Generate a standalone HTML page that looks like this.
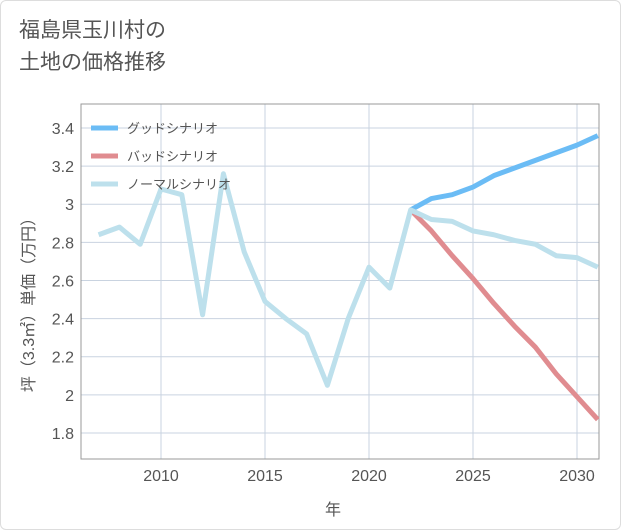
<!DOCTYPE html>
<html><head><meta charset="utf-8"><style>
body{margin:0;background:#fff;font-family:"Liberation Sans","Noto Sans CJK JP",sans-serif}
#wrap{position:relative;width:619px;height:528px;border:1px solid #ddd;border-radius:6px;overflow:hidden}
#title{position:absolute;left:18px;top:14px;font-size:21px;line-height:32px;color:#555}
</style></head><body>
<div id="wrap">
<div id="title">福島県玉川村の<br>土地の価格推移</div>
<svg id="chart" width="621" height="530" style="position:absolute;left:0;top:0"></svg>
</div>
<script>
const years=[2007,2008,2009,2010,2011,2012,2013,2014,2015,2016,2017,2018,2019,2020,2021,2022,2023,2024,2025,2026,2027,2028,2029,2030,2031];
const normal=[2.84,2.88,2.79,3.08,3.05,2.42,3.16,2.75,2.49,2.40,2.32,2.05,2.40,2.67,2.56,2.97,2.92,2.91,2.86,2.84,2.81,2.79,2.73,2.72,2.67];
const goodYears=[2022,2023,2024,2025,2026,2027,2028,2029,2030,2031];
const good=[2.97,3.03,3.05,3.09,3.15,3.19,3.23,3.27,3.31,3.36];
const bad=[2.97,2.86,2.73,2.61,2.48,2.36,2.25,2.11,1.99,1.87];
const yTicks=[1.8,2,2.2,2.4,2.6,2.8,3,3.2,3.4];
const yTickLabels=["1.8","2","2.2","2.4","2.6","2.8","3","3.2","3.4"];
const xTicks=[2010,2015,2020,2025,2030];
const L=80,R=598,T=103,B=458;
const x=v=>160+(v-2010)*20.8;
const y=v=>127-(v-3.4)*190.6;
const svg=document.getElementById('chart');
const NS='http://www.w3.org/2000/svg';
function mk(tag,attrs,parent){const e=document.createElementNS(NS,tag);for(const k in attrs)e.setAttribute(k,attrs[k]);(parent||svg).appendChild(e);return e;}
yTicks.forEach((t,i)=>{
  const g=mk('line',{x1:L,x2:R,y1:y(t),y2:y(t),stroke:'#c9d3e0','stroke-width':1});
  
  
  const tx=mk('text',{x:73,y:y(t)+6,'text-anchor':'end','font-size':16,fill:'#555'});
  tx.textContent=yTickLabels[i];
  
  
});
xTicks.forEach(t=>{
  const g=mk('line',{x1:x(t),x2:x(t),y1:T,y2:B,stroke:'#c9d3e0','stroke-width':1});
  
  
  const tx=mk('text',{x:x(t),y:480,'text-anchor':'middle','font-size':16,fill:'#555'});
  tx.textContent=String(t);
  
  
});
const fr=mk('rect',{x:L,y:T,width:R-L,height:B-T,fill:'none',stroke:'#999','stroke-width':1});


function line(xs,vs,color,name){
  const p=mk('polyline',{points:xs.map((a,i)=>x(a)+','+y(vs[i])).join(' '),fill:'none',stroke:color,'stroke-width':5,'stroke-linejoin':'round'});
  
  
}
const clip=mk('clipPath',{id:'c'});mk('rect',{x:L,y:T,width:R-L,height:B-T},clip);
line(goodYears,good,'#6bbcf5','good-scenario-line');
line(goodYears,bad,'#e08c90','bad-scenario-line');
line(years,normal,'#bde0ec','normal-scenario-line');
[['グッドシナリオ','#6bbcf5',127],['バッドシナリオ','#e08c90',155],['ノーマルシナリオ','#bde0ec',183]].forEach(([n,c,yy])=>{
  const l=mk('line',{x1:90,x2:117,y1:yy,y2:yy,stroke:c,'stroke-width':5});
  
  
  const t=mk('text',{x:126,y:yy+5,'font-size':13,fill:'#555'});
  t.textContent=n;
  
  
});
const xt=mk('text',{x:332,y:514,'text-anchor':'middle','font-size':16,fill:'#555'});
xt.textContent='年';


const yt=mk('text',{x:0,y:0,'text-anchor':'middle','font-size':16,fill:'#555',transform:'translate(33,300) rotate(-90)'});
yt.textContent='坪（3.3㎡）単価（万円）';


</script>
</body></html>
